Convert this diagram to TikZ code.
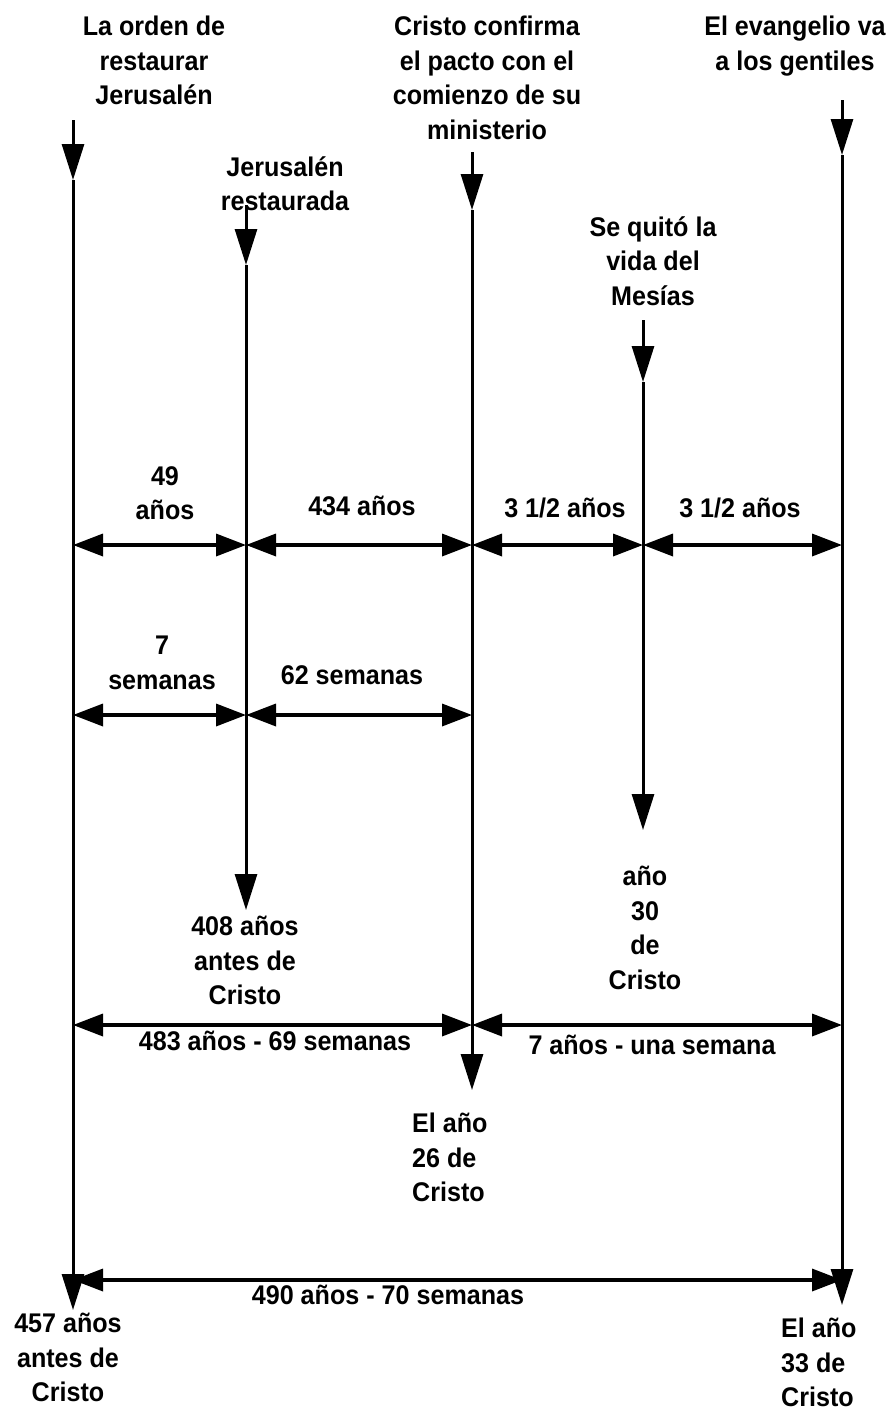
\documentclass[tikz,border=0pt]{standalone}
\usepackage{fontspec}
\newfontfamily\lab{Liberation Sans Bold}[FakeStretch=0.93]
\usetikzlibrary{arrows.meta}
\tikzset{
  vline/.style={line width=3pt},
  downarr/.style={line width=3pt,-{Triangle[length=36pt,width=22pt]}},
  harr/.style={line width=3.5pt,{Triangle[length=30pt,width=22pt]}-{Triangle[length=30pt,width=22pt]}},
  lbl/.style={font={\lab\fontsize{27}{34.5}\selectfont}, align=center, inner sep=0pt, anchor=north},
  lbll/.style={lbl, align=left, anchor=north west},
}
\begin{document}
\begin{tikzpicture}[x=1pt,y=-1pt]
\useasboundingbox (0,0) rectangle (886,1411);
% top labels
\node[lbl] (tA) at (154,16) {La orden de\\restaurar\\Jerusalén};
\node[lbl] (tC) at (487,16) {Cristo confirma\\el pacto con el\\comienzo de su\\ministerio};
\node[lbl] (tE) at (795,16) {El evangelio va\\a los gentiles};
\node[lbl] (tB) at (285,156) {Jerusalén\\restaurada};
\node[lbl] (tD) at (653,216) {Se quitó la\\vida del\\Mesías};
% vertical line coordinates
\coordinate (Atop) at (73,120); \coordinate (Amid) at (73,180); \coordinate (Abot) at (73,1310);
\coordinate (Btop) at (246,205); \coordinate (Bmid) at (246,265); \coordinate (Bbot) at (246,910);
\coordinate (Ctop) at (472,152); \coordinate (Cmid) at (472,210); \coordinate (Cbot) at (472,1090);
\coordinate (Dtop) at (643,320); \coordinate (Dmid) at (643,382); \coordinate (Dbot) at (643,830);
\coordinate (Etop) at (842,100); \coordinate (Emid) at (842,155); \coordinate (Ebot) at (842,1305);
\foreach \n in {A,B,C,D,E}{
  \draw[downarr] (\n top) -- (\n mid);
  \draw[downarr] (\n mid) -- (\n bot);
}
% row coordinates
\foreach \n/\x in {A/73,B/246,C/472,D/643,E/842}{
  \coordinate (\n1) at (\x,545);
  \coordinate (\n2) at (\x,715);
  \coordinate (\n3) at (\x,1025);
  \coordinate (\n4) at (\x,1280);
}
\draw[harr] (A1) -- (B1);
\draw[harr] (B1) -- (C1);
\draw[harr] (C1) -- (D1);
\draw[harr] (D1) -- (E1);
\draw[harr] (A2) -- (B2);
\draw[harr] (B2) -- (C2);
\draw[harr] (A3) -- (C3);
\draw[harr] (C3) -- (E3);
\draw[harr] (A4) -- (E4);
% span labels
\node[lbl] (l49) at (165,466) {49\\años};
\node[lbl] (l434) at (362,496) {434 años};
\node[lbl] (l35a) at (565,498) {3 1/2 años};
\node[lbl] (l35b) at (740,498) {3 1/2 años};
\node[lbl] (l7) at (162,636) {7\\semanas};
\node[lbl] (l62) at (352,665) {62 semanas};
\node[lbl] (l483) at (275,1031) {483 años - 69 semanas};
\node[lbl] (l7a) at (652,1035) {7 años - una semana};
\node[lbl] (l490) at (388,1285) {490 años - 70 semanas};
% bottom labels
\node[lbl] (bB) at (245,916) {408 años\\antes de\\Cristo};
\node[lbl] (bD) at (645,866) {año\\30\\de\\Cristo};
\node[lbll] (bC) at (412,1113) {El año\\26 de\\Cristo};
\node[lbl] (bA) at (68,1313) {457 años\\antes de\\Cristo};
\node[lbll] (bE) at (781,1318) {El año\\33 de\\Cristo};
\end{tikzpicture}
\end{document}
